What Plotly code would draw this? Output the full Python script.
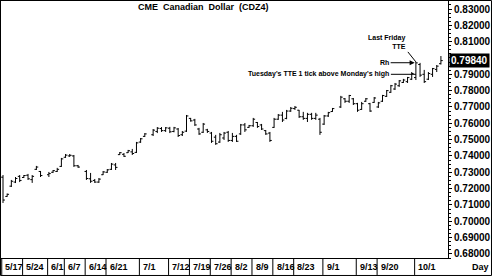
import numpy as np
import plotly.graph_objects as go

# ---------------- data ----------------
dates = [
    "2004-05-17", "2004-05-18", "2004-05-19", "2004-05-20", "2004-05-21",
    "2004-05-24", "2004-05-25", "2004-05-26", "2004-05-27", "2004-05-28",
    "2004-06-01", "2004-06-02", "2004-06-03", "2004-06-04",
    "2004-06-07", "2004-06-08", "2004-06-09", "2004-06-10",
    "2004-06-14", "2004-06-15", "2004-06-16", "2004-06-17", "2004-06-18",
    "2004-06-21", "2004-06-22", "2004-06-23", "2004-06-24", "2004-06-25",
    "2004-06-28", "2004-06-29", "2004-06-30", "2004-07-01", "2004-07-02",
    "2004-07-06", "2004-07-07", "2004-07-08", "2004-07-09",
    "2004-07-12", "2004-07-13", "2004-07-14", "2004-07-15", "2004-07-16",
    "2004-07-19", "2004-07-20", "2004-07-21", "2004-07-22", "2004-07-23",
    "2004-07-26", "2004-07-27", "2004-07-28", "2004-07-29", "2004-07-30",
    "2004-08-02", "2004-08-03", "2004-08-04", "2004-08-05", "2004-08-06",
    "2004-08-09", "2004-08-10", "2004-08-11", "2004-08-12", "2004-08-13",
    "2004-08-16", "2004-08-17", "2004-08-18", "2004-08-19", "2004-08-20",
    "2004-08-23", "2004-08-24", "2004-08-25", "2004-08-26", "2004-08-27",
    "2004-08-30", "2004-08-31", "2004-09-01", "2004-09-02", "2004-09-03",
    "2004-09-07", "2004-09-08", "2004-09-09", "2004-09-10",
    "2004-09-13", "2004-09-14", "2004-09-15", "2004-09-16", "2004-09-17",
    "2004-09-20", "2004-09-21", "2004-09-22", "2004-09-23", "2004-09-24",
    "2004-09-27", "2004-09-28", "2004-09-29", "2004-09-30", "2004-10-01",
    "2004-10-04", "2004-10-05", "2004-10-06", "2004-10-07", "2004-10-08",
    "2004-10-11",
]
opens = [
    .7270, .7152, .7215, .7240, .7275,
    .7268, .7282, .7255, .7318, .7305,
    .7285, .7300, .7305, .7336,
    .7392, .7400, .7400, .7340,
    .7305, .7260, .7250, .7240, .7285,
    .7300, .7318, .7345, .7408, .7410,
    .7420, .7425, .7422, .7485, .7520,
    .7530, .7550, .7568, .7555,
    .7570, .7550, .7565, .7530, .7552,
    .7630, .7620, .7565, .7545, .7560,
    .7540, .7515, .7485, .7510, .7545,
    .7495, .7520, .7535, .7590, .7575,
    .7585, .7605, .7590, .7555, .7540,
    .7575, .7625, .7650, .7630, .7675,
    .7690, .7680, .7640, .7630, .7655,
    .7630, .7625, .7595, .7645, .7672,
    .7700, .7750, .7735, .7750,
    .7720, .7685, .7735, .7720, .7728,
    .7700, .7735, .7765, .7790, .7810,
    .7830, .7850, .7855, .7870, .7880,
    .7960, .7900, .7870, .7900, .7930,
    .7965,
]
highs = [
    .7283, .7170, .7253, .7271, .7283,
    .7283, .7290, .7283, .7339, .7308,
    .7302, .7314, .7327, .7388,
    .7412, .7412, .7406, .7345,
    .7314, .7296, .7259, .7265, .7308,
    .7320, .7357, .7357, .7424, .7418,
    .7437, .7443, .7486, .7510, .7540,
    .7565, .7577, .7577, .7577,
    .7578, .7578, .7571, .7553, .7651,
    .7633, .7627, .7572, .7602, .7566,
    .7547, .7529, .7541, .7547, .7553,
    .7541, .7529, .7596, .7602, .7590,
    .7633, .7608, .7596, .7559, .7547,
    .7633, .7657, .7670, .7682, .7700,
    .7706, .7682, .7670, .7664, .7664,
    .7664, .7633, .7651, .7670, .7694,
    .7768, .7755, .7774, .7755,
    .7725, .7731, .7755, .7725, .7761,
    .7731, .7774, .7804, .7835, .7847,
    .7865, .7872, .7884, .7914, .7976,
    .7970, .7927, .7914, .7939, .7957,
    .8012,
]
lows = [
    .7112, .7150, .7210, .7234, .7240,
    .7265, .7253, .7235, .7314, .7271,
    .7271, .7296, .7302, .7333,
    .7388, .7394, .7333, .7327,
    .7253, .7235, .7235, .7235, .7283,
    .7296, .7314, .7314, .7406, .7394,
    .7418, .7406, .7418, .7480, .7516,
    .7522, .7540, .7547, .7547,
    .7540, .7545, .7516, .7522, .7547,
    .7610, .7584, .7529, .7541, .7541,
    .7480, .7468, .7480, .7498, .7486,
    .7486, .7486, .7529, .7547, .7572,
    .7578, .7572, .7559, .7529, .7486,
    .7572, .7621, .7608, .7625, .7670,
    .7682, .7633, .7621, .7608, .7621,
    .7621, .7529, .7590, .7639, .7670,
    .7694, .7725, .7725, .7712,
    .7670, .7682, .7731, .7670, .7725,
    .7694, .7731, .7761, .7786, .7804,
    .7823, .7847, .7847, .7865, .7865,
    .7884, .7847, .7865, .7884, .7914,
    .7960,
]
closes = [
    .7130, .7165, .7245, .7262, .7250,
    .7280, .7260, .7275, .7332, .7280,
    .7292, .7310, .7318, .7382,
    .7405, .7404, .7340, .7332,
    .7262, .7245, .7240, .7258, .7302,
    .7315, .7350, .7330, .7420, .7398,
    .7432, .7415, .7480, .7505, .7535,
    .7558, .7570, .7555, .7572,
    .7548, .7572, .7525, .7545, .7645,
    .7615, .7590, .7535, .7595, .7550,
    .7490, .7475, .7530, .7540, .7495,
    .7520, .7490, .7590, .7560, .7585,
    .7625, .7580, .7565, .7535, .7495,
    .7625, .7650, .7620, .7675, .7692,
    .7698, .7640, .7630, .7655, .7630,
    .7650, .7545, .7645, .7665, .7690,
    .7760, .7735, .7770, .7720,
    .7680, .7720, .7750, .7675, .7755,
    .7725, .7770, .7800, .7830, .7840,
    .7860, .7865, .7880, .7905, .7970,
    .7895, .7855, .7905, .7935, .7950,
    .7984,
]
label_dates = ["2004-05-17", "2004-05-24", "2004-06-01", "2004-06-07", "2004-06-14",
               "2004-06-21", "2004-07-01", "2004-07-12", "2004-07-19", "2004-07-26",
               "2004-08-02", "2004-08-09", "2004-08-16", "2004-08-23", "2004-09-01",
               "2004-09-13", "2004-09-20", "2004-10-01"]
label_text = ["5/17", "5/24", "6/1", "6/7", "6/14", "6/21", "7/1", "7/12", "7/19",
              "7/26", "8/2", "8/9", "8/16", "8/23", "9/1", "9/13", "9/20", "10/1"]
title_text = "CME\u00a0\u00a0Canadian\u00a0\u00a0Dollar\u00a0\u00a0(CDZ4)"
# 0.80000 is covered by the last-price box in the reference
y_ticks = [0.68, 0.69, 0.70, 0.71, 0.72, 0.73, 0.74, 0.75, 0.76, 0.77, 0.78,
           0.79, 0.81, 0.82, 0.83]

# weekday index (holidays keep their slot, as in the reference)
start = dates[0]
xi = np.busday_count(start, dates)
lx = np.busday_count(start, label_dates)
friday_idx = int(np.busday_count(start, "2004-10-01"))

FONT = "Liberation Sans"

fig = go.Figure()
fig.add_trace(go.Ohlc(
    x=xi, open=opens, high=highs, low=lows, close=closes,
    increasing=dict(line=dict(color="black", width=1)),
    decreasing=dict(line=dict(color="black", width=1)),
    tickwidth=0.45, hoverinfo="skip", showlegend=False,
))

shapes = []
annotations = []

# date labels in boxed strip
for x, t in zip(lx, label_text):
    shapes.append(dict(type="line", xref="x", yref="paper", x0=x - 0.3, x1=x - 0.3,
                       y0=0, y1=-0.066, line=dict(color="black", width=1)))
    annotations.append(dict(x=x + 0.1, y=-0.035, xref="x", yref="paper", text="<b>%s</b>" % t,
                            showarrow=False, xanchor="left", yanchor="middle",
                            font=dict(family=FONT, size=9, color="black")))
annotations.append(dict(x=1.097, y=-0.035, xref="paper", yref="paper", text="<b>Day</b>",
                        showarrow=False, xanchor="right", yanchor="middle",
                        font=dict(family=FONT, size=9, color="black")))
# outer border
shapes.append(dict(type="rect", xref="paper", yref="paper", x0=-0.0011, x1=1.0973,
                   y0=-0.068, y1=1.0019, line=dict(color="black", width=1)))

# title
annotations.append(dict(x=0.454, y=0.977, xref="paper", yref="paper",
                        text="<b>%s</b>" % title_text, showarrow=False,
                        xanchor="center", yanchor="middle",
                        font=dict(family=FONT, size=9, color="black")))

# last price box
annotations.append(dict(x=1.003, y=closes[-1], xref="paper", yref="y",
                        text="<b>%.5f</b>" % closes[-1], showarrow=False,
                        xanchor="left", yanchor="middle", bgcolor="black",
                        borderpad=1, font=dict(family=FONT, size=10, color="white")))

# chart notes
fri_high = highs[dates.index("2004-10-01")]
annotations.append(dict(x=friday_idx, y=fri_high, xref="x", yref="y",
                        text="<b>Last Friday<br>TTE</b>", align="right",
                        showarrow=True, arrowhead=0, arrowwidth=1, arrowcolor="black",
                        ax=-8, ay=-10, xanchor="right", yanchor="bottom",
                        font=dict(family=FONT, size=7, color="black")))
annotations.append(dict(x=friday_idx - 0.3, y=fri_high - 0.0005, xref="x", yref="y",
                        text="<b>Rh</b>", showarrow=True, arrowhead=2, arrowsize=1,
                        arrowwidth=1, arrowcolor="black", ax=-24, ay=0,
                        xanchor="right", yanchor="middle",
                        font=dict(family=FONT, size=7, color="black")))
annotations.append(dict(x=friday_idx, y=0.7900, xref="x", yref="y",
                        text="<b>Tuesday's TTE 1 tick above Monday's high</b>",
                        showarrow=True, arrowhead=0, arrowwidth=1, arrowcolor="black",
                        ax=-25, ay=0, xanchor="right", yanchor="middle",
                        font=dict(family=FONT, size=7, color="black")))

fig.update_layout(
    width=492, height=276,
    margin=dict(l=1, r=44, t=1, b=18),
    paper_bgcolor="white", plot_bgcolor="white",
    showlegend=False,
    shapes=shapes, annotations=annotations,
    xaxis=dict(range=[-0.48, 106.7], showgrid=False, zeroline=False,
               showticklabels=False, ticks="", showline=True, linecolor="black",
               linewidth=1, mirror=True, rangeslider=dict(visible=False), fixedrange=True),
    yaxis=dict(range=[0.6775, 0.8349], side="right", tickvals=y_ticks,
               tickformat=".5f", ticks="outside", ticklen=3, tickcolor="black",
               showgrid=False, zeroline=False, showline=True, linecolor="black",
               linewidth=1, mirror=True,
               tickfont=dict(family=FONT, size=10, color="black", weight="bold"),
               minor=dict(dtick=0.0025, ticks="outside", ticklen=2, tickcolor="black"),
               fixedrange=True),
)

fig.write_html("out.html")
